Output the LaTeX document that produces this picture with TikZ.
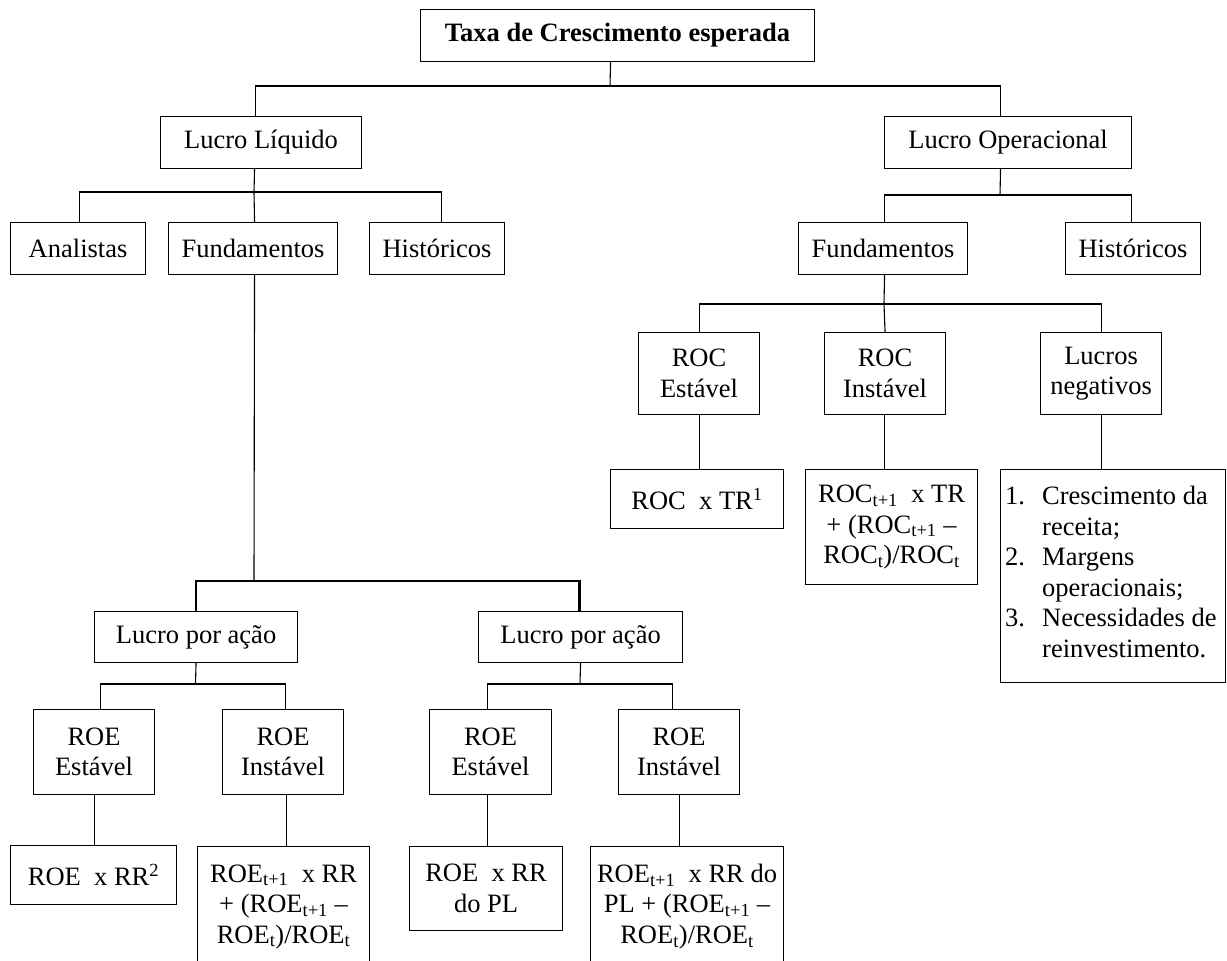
\documentclass[tikz,border=0pt]{standalone}
\usepackage{fontspec}
\setmainfont{Liberation Serif}
\begin{document}
\begin{tikzpicture}[x=1pt,y=-1pt,
  font=\fontsize{26.5}{30.5}\selectfont,
  box/.style={draw, line width=1.1pt, inner sep=0pt, align=center, anchor=north west},
  conn/.style={line width=1.1pt},
  bus/.style={line width=2.2pt}]
\useasboundingbox (0,0) rectangle (1227,961);
\fill[white] (0,0) rectangle (1227,961);
\clip (0,0) rectangle (1227,961);

% level 0/1
\node[box, minimum width=394, minimum height=52] (root) at (420,9) {\textbf{Taxa de Crescimento esperada}};
\node[box, minimum width=201, minimum height=52] (ll) at (160,116) {Lucro Líquido};
\node[box, minimum width=247, minimum height=52] (lo) at (884,116) {Lucro Operacional};
% level 2
\node[box, minimum width=135, minimum height=52] (an) at (10,222) {Analistas};
\node[box, minimum width=169, minimum height=52] (fl) at (168,222) {Fundamentos};
\node[box, minimum width=135, minimum height=52] (hl) at (369,222) {Históricos};
\node[box, minimum width=169, minimum height=52] (fr) at (798,222) {Fundamentos};
\node[box, minimum width=135, minimum height=52] (hr) at (1065,222) {Históricos};
% ROC level
\node[box, minimum width=121, minimum height=82] (rs) at (638,332) {ROC\\Estável};
\node[box, minimum width=121, minimum height=82] (ri) at (824,332) {ROC\\Instável};
\node[box, minimum width=121, minimum height=82] (ln) at (1040,332) {Lucros\\negativos};
\node[box, minimum width=173, minimum height=59] (rst) at (610,469) {ROC\ \ x TR\textsuperscript{1}};
\node[box, minimum width=172, minimum height=115] (rit) at (805,469) {ROC\textsubscript{t+1}\ \ x TR\\+ (ROC\textsubscript{t+1} –\\ROC\textsubscript{t})/ROC\textsubscript{t}};
\node[box, minimum width=225, minimum height=213] (lst) at (1000,469) {};
\node[anchor=west, inner sep=0pt] (lsttext) at (1005,575) {%
  \begin{tabular}{@{}l@{}l@{}}
  \makebox[37pt][l]{1.} & Crescimento da\\
   & receita;\\
  \makebox[37pt][l]{2.} & Margens\\
   & operacionais;\\
  \makebox[37pt][l]{3.} & Necessidades de\\
   & reinvestimento.
  \end{tabular}};
% Lucro por acao level
\node[box, minimum width=203, minimum height=51] (la) at (94,611) {Lucro por ação};
\node[box, minimum width=204, minimum height=51] (lb) at (478,611) {Lucro por ação};
\node[box, minimum width=121, minimum height=85] (e1) at (33,709) {ROE\\Estável};
\node[box, minimum width=121, minimum height=85] (i1) at (222,709) {ROE\\Instável};
\node[box, minimum width=122, minimum height=85] (e2) at (429,709) {ROE\\Estável};
\node[box, minimum width=121, minimum height=85] (i2) at (618,709) {ROE\\Instável};
\node[box, minimum width=166, minimum height=59] (e1t) at (10,845) {ROE\ \ x RR\textsuperscript{2}};
\node[box, minimum width=172, minimum height=120] (i1t) at (197,846) {ROE\textsubscript{t+1}\ \ x RR\\+ (ROE\textsubscript{t+1} –\\ROE\textsubscript{t})/ROE\textsubscript{t}};
\node[box, minimum width=153, minimum height=84] (e2t) at (409,846) {ROE\ \ x RR\\do PL};
\node[box, minimum width=193, minimum height=120] (i2t) at (590,846) {ROE\textsubscript{t+1}\ \ x RR do\\PL + (ROE\textsubscript{t+1} –\\ROE\textsubscript{t})/ROE\textsubscript{t}};

% connectors
\coordinate (j0) at (610,86);
\draw[conn] ([xshift=-7pt]root.south) -- (j0);
\draw[conn] ([xshift=-5.5pt]ll.north) |- (j0) -| ([xshift=-7.5pt]lo.north);

\coordinate (j1) at (254,192);
\draw[conn] ([xshift=-6.5pt]ll.south) -- (j1);
\draw[conn] ([xshift=1.5pt]an.north) |- (j1) -| ([xshift=4.5pt]hl.north);
\draw[conn] (j1) -- ([xshift=1.5pt]fl.north);

\coordinate (j2) at (1000,195);
\draw[conn] ([xshift=-7.5pt]lo.south) -- (j2);
\draw[conn] ([xshift=1.5pt]fr.north) |- (j2) -| ([xshift=-1.5pt]hr.north);

\coordinate (j3) at (884,304);
\draw[conn] ([xshift=1.5pt]fr.south) -- (j3);
\draw[conn] (rs.north) |- (j3) -| (ln.north);
\draw[conn] (j3) -- (ri.north);
\draw[conn] (rs.south) -- (rs.south |- rst.north);
\draw[conn] ([xshift=-0.5pt]ri.south) -- ([xshift=-0.5pt]ri.south |- rit.north);
\draw[conn] (ln.south) -- (ln.south |- lst.north);

\coordinate (j4) at (254,581);
\draw[conn] ([xshift=1.5pt]fl.south) -- (j4);
\draw[bus] (la.north) |- (j4) -| ([xshift=-1pt]lb.north);

\coordinate (j5) at (195.5,684);
\draw[conn] (la.south) -- (j5);
\draw[conn] ([xshift=6.5pt]e1.north) |- (j5) -| ([xshift=2.5pt]i1.north);
\draw[conn] (e1.south) -- (e1.south |- e1t.north);
\draw[conn] ([xshift=3.5pt]i1.south) -- ([xshift=3.5pt]i1.south |- i1t.north);

\coordinate (j6) at (580,684);
\draw[conn] (lb.south) -- (j6);
\draw[conn] ([xshift=-3pt]e2.north) |- (j6) -| ([xshift=-6.5pt]i2.north);
\draw[conn] ([xshift=-3pt]e2.south) -- ([xshift=-3pt]e2.south |- e2t.north);
\draw[conn] (i2.south) -- (i2.south |- i2t.north);
\end{tikzpicture}
\end{document}
